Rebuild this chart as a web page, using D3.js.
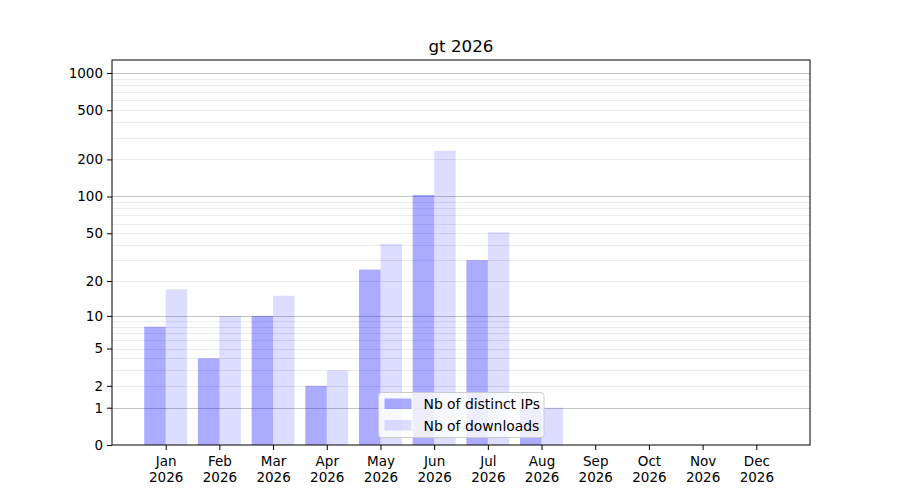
<!DOCTYPE html>
<html lang="en">
<head>
  <meta charset="UTF-8">
  <title>gt 2026</title>
  <script src="https://d3js.org/d3.v7.min.js"></script>
  <style>
    body { margin: 0; background: #fff; }
    text { font-family: "DejaVu Sans", sans-serif; fill: #000; }
  </style>
</head>
<body>
<div id="chart"></div>
<script>
  // Data
  const months = ["Jan", "Feb", "Mar", "Apr", "May", "Jun", "Jul", "Aug", "Sep", "Oct", "Nov", "Dec"];
  const year = "2026";
  const distinctIPs = [8, 4, 10, 2, 25, 103, 30, 1, 0, 0, 0, 0];
  const downloads = [17, 10, 15, 3, 41, 235, 51, 1, 0, 0, 0, 0];
  const yTickValues = [0, 1, 2, 5, 10, 20, 50, 100, 200, 500, 1000];
  const majorGrid = [1, 10, 100, 1000];
  const seriesNames = ["Nb of distinct IPs", "Nb of downloads"];

  // Dimensions
  const width = 900, height = 500;
  const margin = { top: 60, right: 90, bottom: 55, left: 112 };
  const barWidth = 0.4; // in month units

  const svg = d3.select("#chart").append("svg")
    .attr("width", width)
    .attr("height", height);

  // months are categorical, domain padded by one slot each side
  const x = d3.scaleLinear()
    .domain([-1, 12])
    .range([margin.left, width - margin.right]);

  // log10(1 + v) style scale
  const y = d3.scaleSymlog()
    .constant(1)
    .domain([0, 1273])
    .range([height - margin.bottom, margin.top]);

  // minor grid lines: 2..9 per decade
  const minorGrid = [];
  [1, 10, 100].forEach(d => {
    for (let k = 2; k <= 9; k++) minorGrid.push(d * k);
  });

  svg.append("g")
    .selectAll("line")
    .data(minorGrid)
    .join("line")
    .attr("x1", margin.left)
    .attr("x2", width - margin.right)
    .attr("y1", d => Math.round(y(d)) + 0.5)
    .attr("y2", d => Math.round(y(d)) + 0.5)
    .attr("stroke", "#ebebeb")
    .attr("stroke-width", 1);

  svg.append("g")
    .selectAll("line")
    .data(majorGrid)
    .join("line")
    .attr("x1", margin.left)
    .attr("x2", width - margin.right)
    .attr("y1", d => Math.round(y(d)) + 0.5)
    .attr("y2", d => Math.round(y(d)) + 0.5)
    .attr("stroke", "#c4c4c4")
    .attr("stroke-width", 1);

  // Bars
  svg.append("g")
    .selectAll("rect")
    .data(distinctIPs)
    .join("rect")
    .attr("x", (d, i) => x(i - barWidth))
    .attr("width", x(barWidth) - x(0))
    .attr("y", d => y(d))
    .attr("height", d => y(0) - y(d))
    .attr("fill", "#0000ff")
    .attr("fill-opacity", 0.33);

  svg.append("g")
    .selectAll("rect")
    .data(downloads)
    .join("rect")
    .attr("x", (d, i) => x(i))
    .attr("width", x(barWidth) - x(0))
    .attr("y", d => y(d))
    .attr("height", d => y(0) - y(d))
    .attr("fill", "#0000ff")
    .attr("fill-opacity", 0.135);

  // Frame
  svg.append("rect")
    .attr("x", margin.left)
    .attr("y", margin.top)
    .attr("width", width - margin.left - margin.right)
    .attr("height", height - margin.top - margin.bottom)
    .attr("fill", "none")
    .attr("stroke", "#000")
    .attr("stroke-width", 1);

  // Y axis
  const yAxis = svg.append("g")
    .attr("transform", `translate(${margin.left},0)`)
    .call(d3.axisLeft(y).tickValues(yTickValues).tickFormat(d3.format("d")).tickSize(5).tickPadding(4));
  yAxis.select(".domain").remove();
  yAxis.selectAll("text").style("font-size", "13.5px").style("font-family", "DejaVu Sans, sans-serif");

  // X axis
  const xAxis = svg.append("g")
    .attr("transform", `translate(0,${height - margin.bottom})`)
    .call(d3.axisBottom(x).tickValues(d3.range(months.length)).tickFormat("").tickSize(5));
  xAxis.select(".domain").remove();

  xAxis.selectAll(".tick").each(function(d) {
    const t = d3.select(this).append("text")
      .attr("text-anchor", "middle")
      .style("font-size", "13.5px")
      .style("font-family", "DejaVu Sans, sans-serif")
      .attr("fill", "#000");
    t.append("tspan").attr("x", 0).attr("y", 21).text(months[d]);
    t.append("tspan").attr("x", 0).attr("y", 37).text(year);
  });

  // Title
  svg.append("text")
    .attr("x", (margin.left + width - margin.right) / 2)
    .attr("y", 52)
    .attr("text-anchor", "middle")
    .style("font-size", "16.7px")
    .text("gt 2026");

  // Legend
  const legend = svg.append("g").attr("transform", "translate(378.5,392.5)");
  legend.append("rect")
    .attr("width", 165.5)
    .attr("height", 45)
    .attr("rx", 3)
    .attr("fill", "#fff")
    .attr("fill-opacity", 0.8)
    .attr("stroke", "#cccccc");

  const opacities = [0.33, 0.135];
  seriesNames.forEach((name, i) => {
    const row = legend.append("g").attr("transform", `translate(6,${6 + i * 21.5})`);
    row.append("rect")
      .attr("width", 27)
      .attr("height", 10.5)
      .attr("fill", "#0000ff")
      .attr("fill-opacity", opacities[i]);
    row.append("text")
      .attr("x", 39)
      .attr("y", 10.5)
      .style("font-size", "13.9px")
      .text(name);
  });
</script>
</body>
</html>
